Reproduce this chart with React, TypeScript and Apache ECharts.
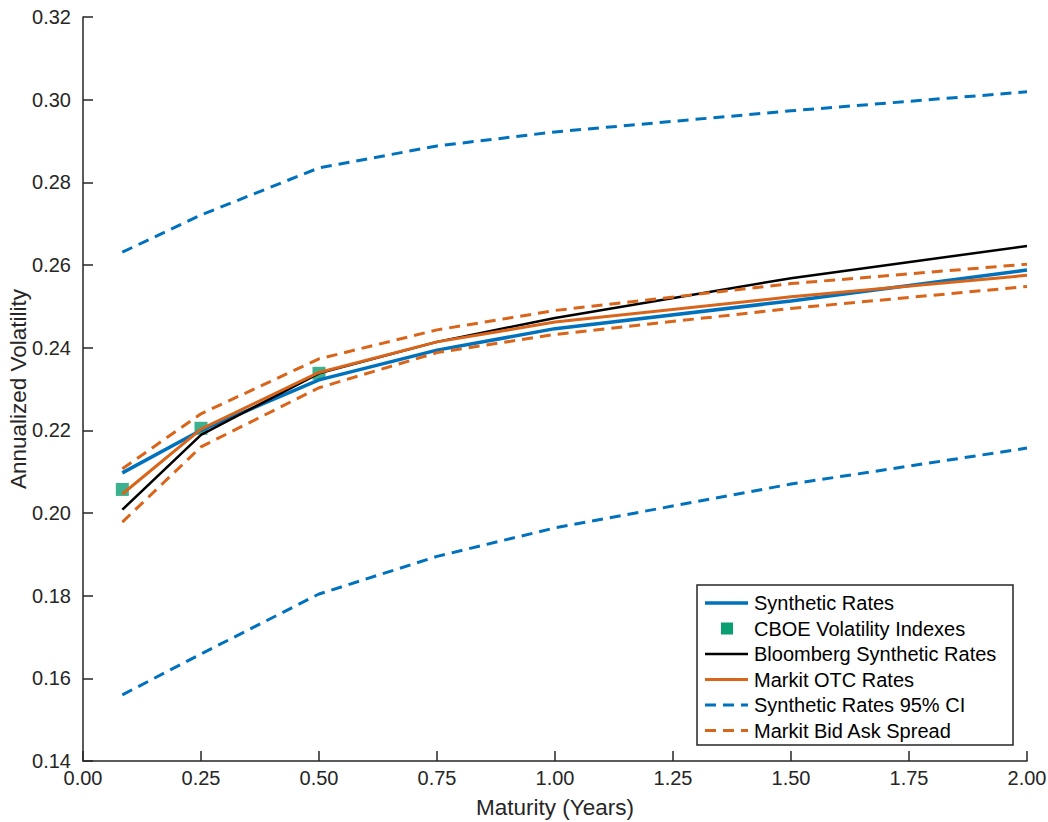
import React, { useEffect, useRef } from "react";
import * as echarts from "echarts";

const maturities = [1 / 12, 0.25, 0.5, 0.75, 1.0, 1.5, 2.0];
const syntheticRates = [0.2097, 0.2200, 0.2322, 0.2394, 0.2446, 0.2513, 0.2588];
const bloombergRates = [0.2008, 0.2189, 0.2338, 0.2414, 0.2472, 0.2568, 0.2646];
const markitOtc = [0.2046, 0.2203, 0.2340, 0.2414, 0.2462, 0.2523, 0.2575];
const markitAsk = [0.2107, 0.2240, 0.2373, 0.2443, 0.2490, 0.2555, 0.2602];
const markitBid = [0.1978, 0.2160, 0.2303, 0.2388, 0.2432, 0.2495, 0.2548];
const ciUpper = [0.2631, 0.2721, 0.2835, 0.2888, 0.2922, 0.2973, 0.3019];
const ciLower = [0.1560, 0.1659, 0.1804, 0.1895, 0.1964, 0.2070, 0.2157];
const cboeMaturities = [1 / 12, 0.25, 0.5];
const cboeIndexes = [0.2057, 0.2205, 0.2338];

const legendNames = [
  "Synthetic Rates",
  "CBOE Volatility Indexes",
  "Bloomberg Synthetic Rates",
  "Markit OTC Rates",
  "Synthetic Rates 95% CI",
  "Markit Bid Ask Spread",
];

const BLUE = "#0072BD";
const ORANGE = "#D9651A";
const GREEN = "#0A9E73";
const AXIS = "#262626";
const FONT = "'Liberation Sans', Helvetica, Arial, sans-serif";
const DASH = [11, 7];

const pair = (xs: number[], ys: number[]) => xs.map((x, i) => [x, ys[i]]);

export default function App() {
  const ref = useRef<HTMLDivElement>(null);
  useEffect(() => {
    document.body.style.margin = "0";
    const chart = echarts.init(ref.current!, null, { renderer: "svg" });
    const lineSeries = (name: string, ys: number[], color: string, width: number, dashed: boolean, z: number) => ({
      name,
      type: "line",
      data: pair(maturities, ys),
      symbol: "none",
      z,
      lineStyle: { color, width, type: dashed ? DASH : "solid", cap: "butt" },
      itemStyle: { color },
    });

    const legendX = 697;
    const legendY = 585;
    const rowY = [603, 628.5, 654, 679.5, 705, 730.5];
    const legendStyles = [
      { kind: "line", color: BLUE, width: 3.5, dash: null },
      { kind: "square", color: GREEN },
      { kind: "line", color: "#000", width: 2.5, dash: null },
      { kind: "line", color: ORANGE, width: 3, dash: null },
      { kind: "line", color: BLUE, width: 3, dash: DASH },
      { kind: "line", color: ORANGE, width: 3, dash: DASH },
    ];
    const legendGraphics: any[] = [
      {
        type: "rect",
        shape: { x: legendX, y: legendY, width: 316, height: 160 },
        style: { fill: "#fff", stroke: AXIS, lineWidth: 1.5 },
        z: 100,
      },
    ];
    legendNames.forEach((name, i) => {
      const st: any = legendStyles[i];
      const y = rowY[i];
      if (st.kind === "line") {
        legendGraphics.push({
          type: "line",
          shape: { x1: 705, y1: y, x2: 748, y2: y },
          style: { stroke: st.color, lineWidth: st.width, lineDash: st.dash || undefined },
          z: 101,
        });
      } else {
        legendGraphics.push({
          type: "rect",
          shape: { x: 721, y: y - 6, width: 12, height: 12 },
          style: { fill: st.color },
          z: 101,
        });
      }
      legendGraphics.push({
        type: "text",
        x: 754,
        y,
        style: {
          text: name,
          font: `20px ${FONT}`,
          fill: "#000",
          textVerticalAlign: "middle",
          verticalAlign: "middle",
        },
        z: 101,
      });
    });

    chart.setOption({
      animation: false,
      backgroundColor: "#fff",
      grid: { left: 83, right: 21, top: 17, bottom: 61, containLabel: false, outerBoundsMode: "none" },
      xAxis: {
        type: "value",
        min: 0,
        max: 2,
        interval: 0.25,
        name: "Maturity (Years)",
        nameLocation: "middle",
        nameGap: 35,
        nameMoveOverlap: false,
        nameTextStyle: { fontSize: 22.5, color: AXIS, fontFamily: FONT },
        axisLine: { show: true, onZero: false, lineStyle: { color: AXIS, width: 1.5 } },
        axisTick: { show: true, inside: true, length: 10, lineStyle: { color: AXIS, width: 1.5 } },
        axisLabel: { fontSize: 20, color: AXIS, fontFamily: FONT, margin: 7, formatter: (v: number) => v.toFixed(2) },
        splitLine: { show: false },
      },
      yAxis: {
        type: "value",
        min: 0.14,
        max: 0.32,
        interval: 0.02,
        name: "Annualized Volatility",
        nameLocation: "middle",
        nameGap: 53,
        nameMoveOverlap: false,
        nameRotate: 90,
        nameTextStyle: { fontSize: 22.5, color: AXIS, fontFamily: FONT },
        axisLine: { show: true, onZero: false, lineStyle: { color: AXIS, width: 1.5 } },
        axisTick: { show: true, inside: true, length: 10, lineStyle: { color: AXIS, width: 1.5 } },
        axisLabel: { fontSize: 20, color: AXIS, fontFamily: FONT, margin: 12, formatter: (v: number) => v.toFixed(2) },
        splitLine: { show: false },
      },
      series: [
        {
          name: legendNames[1],
          type: "scatter",
          data: pair(cboeMaturities, cboeIndexes),
          symbol: "rect",
          symbolSize: 13,
          itemStyle: { color: GREEN },
          z: 1,
        },
        lineSeries(legendNames[0], syntheticRates, BLUE, 3.5, false, 2),
        lineSeries(legendNames[2], bloombergRates, "#000", 2.5, false, 3),
        lineSeries(legendNames[3], markitOtc, ORANGE, 3, false, 4),
        lineSeries(legendNames[4], ciUpper, BLUE, 3, true, 5),
        { ...lineSeries(legendNames[4], ciLower, BLUE, 3, true, 5) },
        lineSeries(legendNames[5], markitAsk, ORANGE, 3, true, 6),
        { ...lineSeries(legendNames[5], markitBid, ORANGE, 3, true, 6) },
      ],
      graphic: legendGraphics,
    });
    return () => chart.dispose();
  }, []);
  return <div ref={ref} style={{ width: 1048, height: 822 }} />;
}
